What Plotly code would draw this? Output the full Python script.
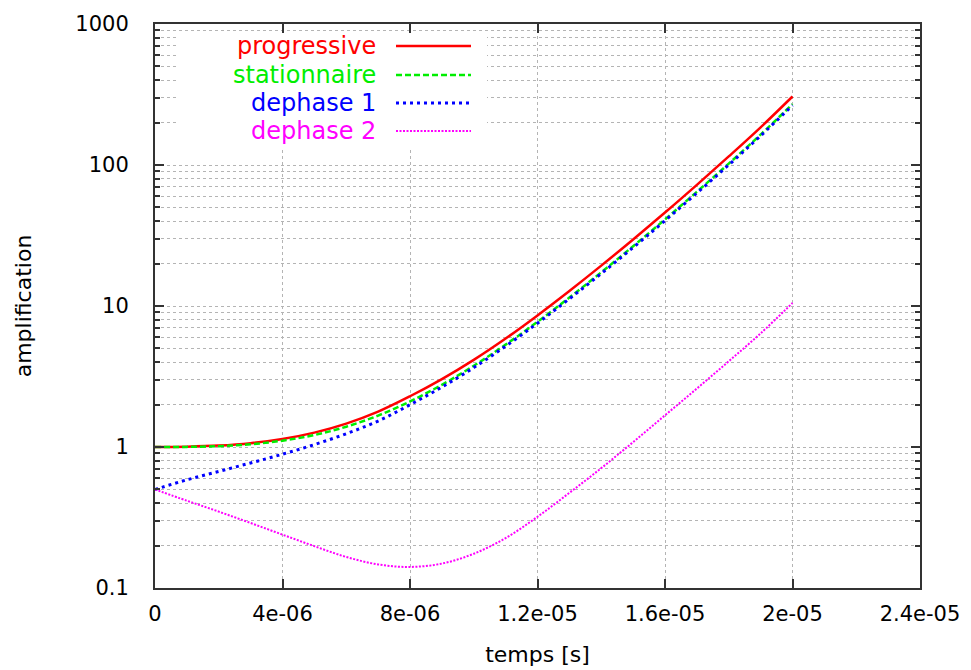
import plotly.graph_objects as go

# ---- data ----
temps = [0, 1e-6, 2e-6, 3e-6, 4e-6, 5e-6, 6e-6, 7e-6, 8e-6, 9e-6, 1e-5,
         1.1e-5, 1.2e-5, 1.3e-5, 1.4e-5, 1.5e-5, 1.6e-5, 1.7e-5, 1.8e-5, 1.9e-5, 2e-5]
progressive = [1.0, 1.005, 1.023, 1.064, 1.14, 1.265, 1.466, 1.782, 2.29, 3.03, 4.15,
               5.88, 8.58, 12.78, 19.33, 29.65, 46.0, 72.3, 115.0, 185.0, 306]
stationnaire = [1.0, 1.002, 1.014, 1.045, 1.109, 1.216, 1.393, 1.671, 2.104, 2.761, 3.767,
                5.321, 7.727, 11.48, 17.34, 26.55, 41.11, 64.57, 102.3, 164.4, 270.4]
dephase1 = [0.5, 0.585, 0.671, 0.771, 0.889, 1.04, 1.242, 1.528, 1.995, 2.661, 3.656,
            5.188, 7.551, 11.25, 16.98, 26.0, 40.27, 63.24, 100.2, 161.1, 264.9]
dephase2 = [0.5, 0.416, 0.348, 0.289, 0.239, 0.198, 0.166, 0.147, 0.141, 0.149, 0.175,
            0.226, 0.32, 0.473, 0.708, 1.084, 1.679, 2.6, 4.055, 6.397, 10.5]

series_names = ["progressive", "stationnaire", "dephase 1", "dephase 2"]
series_values = [progressive, stationnaire, dephase1, dephase2]
series_colors = ["#ff0000", "#00ee00", "#0000ff", "#ff00ff"]
series_dash = ["solid", "6px,3px", "3px,4px", "2px,1.5px"]
series_width = [2.5, 2.5, 3, 2]

x_tickvals = [0, 4e-6, 8e-6, 1.2e-5, 1.6e-5, 2e-5, 2.4e-5]
x_ticktext = ["0", "4e-06", "8e-06", "1.2e-05", "1.6e-05", "2e-05", "2.4e-05"]
y_tickvals = [0.1, 1, 10, 100, 1000]
y_ticktext = ["0.1", "1", "10", "100", "1000"]
y_minorvals = [m * 10 ** e for e in range(-1, 3) for m in range(2, 10)]

FONT = "DejaVu Sans, Verdana, sans-serif"
FRAME = "#333333"
GRID = "#b4b4b4"

fig = go.Figure()
for name, vals, col, dash, w in zip(series_names, series_values, series_colors,
                                    series_dash, series_width):
    fig.add_trace(go.Scatter(x=temps, y=vals, mode="lines", name=name,
                             line=dict(color=col, dash=dash, width=w, shape="spline"),
                             showlegend=False))

# ---- manual gnuplot-style key (text right, sample line on the right) ----
L, R, T, B = 155, 920, 24, 588
W, H = R - L, B - T
px = lambda x: (x - L) / W
py = lambda y: (B - y) / H

shapes = [dict(type="rect", xref="paper", yref="paper", layer="above",
               x0=px(176), x1=px(487), y0=py(147), y1=py(34),
               fillcolor="white", line=dict(width=0))]
annotations = []
rows = [46, 75, 103, 131]
for name, col, dash, w, ry in zip(series_names, series_colors, series_dash,
                                   series_width, rows):
    annotations.append(dict(xref="paper", yref="paper", x=px(378), y=py(ry),
                            text=name, showarrow=False, xanchor="right",
                            yanchor="middle",
                            font=dict(family=FONT, size=24, color=col)))
    shapes.append(dict(type="line", xref="paper", yref="paper", layer="above",
                       x0=px(396), x1=px(471), y0=py(ry), y1=py(ry),
                       line=dict(color=col, dash=dash, width=w)))

fig.update_layout(
    width=971, height=670,
    margin=dict(l=L, r=971 - R, t=T, b=670 - B),
    plot_bgcolor="white", paper_bgcolor="white",
    font=dict(family=FONT, size=21, color="black"),
    shapes=shapes, annotations=annotations,
    xaxis=dict(range=[0, 2.4e-5], tickmode="array", tickvals=x_tickvals,
               ticktext=x_ticktext, ticks="inside", ticklen=9, tickwidth=2,
               tickcolor=FRAME, showline=True, linewidth=2, linecolor=FRAME,
               mirror="allticks", showgrid=True, gridcolor=GRID, griddash="dot",
               gridwidth=1, zeroline=False, ticklabelstandoff=6, automargin=False,
               tickfont=dict(family=FONT, size=21, color="black"),
               title=dict(text="temps [s]", standoff=21,
                          font=dict(family=FONT, size=22, color="black"))),
    yaxis=dict(type="log", range=[-1, 3], tickmode="array", tickvals=y_tickvals,
               ticktext=y_ticktext, ticks="inside", ticklen=9, tickwidth=2,
               tickcolor=FRAME, showline=True, linewidth=2, linecolor=FRAME,
               mirror="allticks", showgrid=True, gridcolor=GRID, griddash="dot",
               gridwidth=1, zeroline=False, ticklabelstandoff=20, automargin=False,
               tickfont=dict(family=FONT, size=21, color="black"),
               minor=dict(tickmode="array", tickvals=y_minorvals, ticks="inside",
                          ticklen=5, tickwidth=1.5, tickcolor=FRAME, showgrid=True,
                          gridcolor=GRID, griddash="dot", gridwidth=1),
               title=dict(text="amplification", standoff=38,
                          font=dict(family=FONT, size=22, color="black"))),
)

fig.write_html("out.html", config={"displayModeBar": False},
               post_script="document.body.style.margin='0';document.body.style.overflow='hidden';")
